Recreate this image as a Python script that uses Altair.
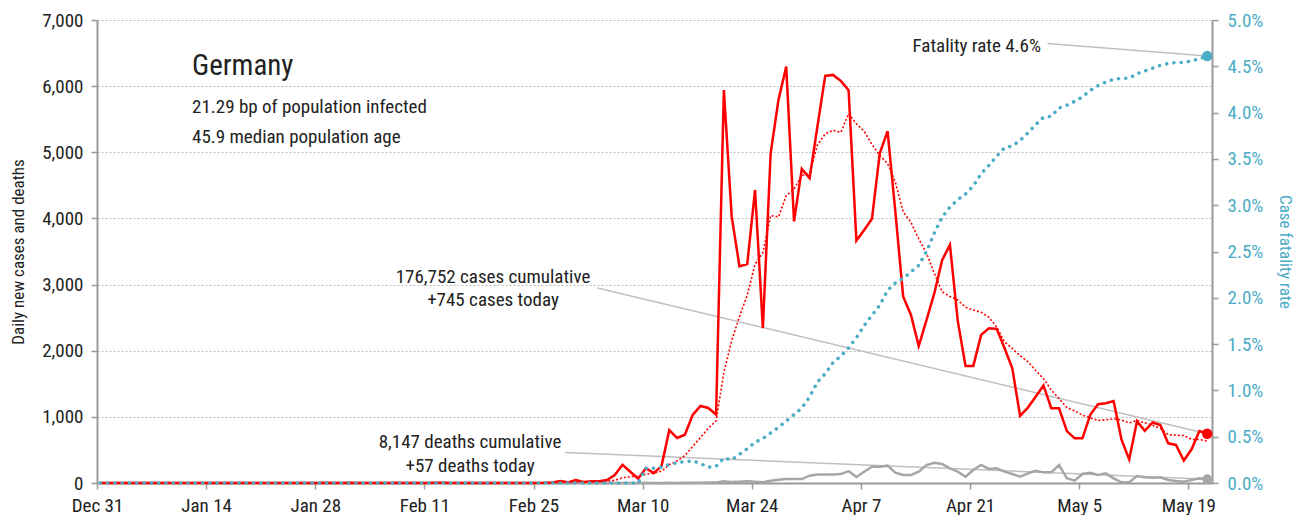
import altair as alt
import pandas as pd

# ---------------- data ----------------
days = list(range(0, 143))  # 0 = Dec 31 ... 142 = May 21

cases_sparse = {
    28: 1, 29: 3, 31: 1, 32: 3, 35: 1, 38: 2, 40: 1, 43: 2, 44: 2,
    57: 2, 58: 8, 59: 30, 60: 10, 61: 45, 62: 15, 63: 25, 64: 25, 65: 45,
    66: 120, 67: 275, 68: 170, 69: 65, 70: 225, 71: 150, 72: 255, 73: 800,
    74: 680, 75: 730, 76: 1030, 77: 1165, 78: 1135, 79: 1035, 80: 5940,
    81: 4030, 82: 3275, 83: 3310, 84: 4430, 85: 2340, 86: 4985, 87: 5790,
    88: 6295, 89: 3955, 90: 4750, 91: 4610, 92: 5390, 93: 6155, 94: 6170,
    95: 6080, 96: 5940, 97: 3665, 98: 3825, 99: 3995, 100: 4985, 101: 5320,
    102: 4100, 103: 2820, 104: 2540, 105: 2070, 106: 2465, 107: 2870,
    108: 3370, 109: 3600, 110: 2455, 111: 1770, 112: 1770, 113: 2240,
    114: 2340, 115: 2330, 116: 2040, 117: 1735, 118: 1015, 119: 1140,
    120: 1305, 121: 1475, 122: 1130, 123: 1130, 124: 785, 125: 675,
    126: 675, 127: 1030, 128: 1190, 129: 1205, 130: 1240, 131: 660,
    132: 357, 133: 935, 134: 790, 135: 915, 136: 875, 137: 600, 138: 575,
    139: 340, 140: 510, 141: 785, 142: 745,
}
deaths_sparse = {
    70: 2, 72: 1, 73: 2, 74: 1, 75: 2, 76: 5, 77: 4, 78: 8, 79: 8, 80: 25,
    81: 15, 82: 20, 83: 25, 84: 20, 85: 12, 86: 35, 87: 50, 88: 60, 89: 60,
    90: 60, 91: 110, 92: 130, 93: 130, 94: 130, 95: 135, 96: 180, 97: 90,
    98: 170, 99: 245, 100: 245, 101: 262, 102: 156, 103: 121, 104: 121,
    105: 171, 106: 272, 107: 307, 108: 287, 109: 222, 110: 171, 111: 95,
    112: 197, 113: 272, 114: 212, 115: 222, 116: 171, 117: 136, 118: 95,
    119: 146, 120: 186, 121: 161, 122: 161, 123: 272, 124: 71, 125: 35,
    126: 136, 127: 156, 128: 121, 129: 146, 130: 71, 131: 10, 132: 10,
    133: 106, 134: 86, 135: 80, 136: 86, 137: 45, 138: 30, 139: 20,
    140: 45, 141: 71, 142: 57,
}
cfr_sparse = {  # percent
    70: 0.16, 71: 0.16, 72: 0.17, 73: 0.20, 74: 0.22, 75: 0.23, 76: 0.24,
    77: 0.21, 78: 0.17, 79: 0.18, 80: 0.27, 81: 0.25, 82: 0.31, 83: 0.37,
    84: 0.44, 85: 0.48, 86: 0.54, 87: 0.60, 88: 0.67, 89: 0.74, 90: 0.81,
    91: 0.93, 92: 1.09, 93: 1.18, 94: 1.30, 95: 1.37, 96: 1.46, 97: 1.57,
    98: 1.70, 99: 1.81, 100: 1.92, 101: 2.08, 102: 2.16, 103: 2.21,
    104: 2.28, 105: 2.35, 106: 2.50, 107: 2.70, 108: 2.87, 109: 2.98,
    110: 3.06, 111: 3.12, 112: 3.21, 113: 3.34, 114: 3.43, 115: 3.53,
    116: 3.62, 117: 3.64, 118: 3.70, 119: 3.78, 120: 3.87, 121: 3.95,
    122: 3.96, 123: 4.05, 124: 4.08, 125: 4.12, 126: 4.17, 127: 4.24,
    128: 4.29, 129: 4.33, 130: 4.36, 131: 4.37, 132: 4.37, 133: 4.42,
    134: 4.45, 135: 4.48, 136: 4.51, 137: 4.53, 138: 4.54, 139: 4.54,
    140: 4.56, 141: 4.58, 142: 4.61,
}
cases = [cases_sparse.get(d, 0) for d in days]
deaths = [deaths_sparse.get(d, 0) for d in days]
cfr = [cfr_sparse.get(d, 0.0) for d in days]

tick_days = [0, 14, 28, 42, 56, 70, 84, 98, 112, 126, 140]
tick_labels = ["Dec 31", "Jan 14", "Jan 28", "Feb 11", "Feb 25", "Mar 10",
               "Mar 24", "Apr 7", "Apr 21", "May 5", "May 19"]
left_ticks = [0, 1000, 2000, 3000, 4000, 5000, 6000, 7000]
right_ticks = [0, 0.5, 1, 1.5, 2, 2.5, 3, 3.5, 4, 4.5, 5]

title_lines = ["Germany", "21.29 bp of population infected", "45.9 median population age"]
cases_note = ["176,752 cases cumulative", "+745 cases today"]
deaths_note = ["8,147 deaths cumulative", "+57 deaths today"]
cfr_note = "Fatality rate 4.6%"

df = pd.DataFrame({"day": days, "cases": cases, "deaths": deaths, "cfr": cfr})

# ---------------- styling ----------------
FONT = "'Roboto Condensed', 'DejaVu Sans Condensed', 'Liberation Sans Narrow', Roboto, sans-serif"
RED = "#ff0000"
BLUE = "#4bacc6"
GREY = "#a6a6a6"
LEAD = "#bfbfbf"
TXT = "#222222"
W, H = 1115, 463
LAST = 142

label_js = "[" + ",".join("'%s'" % s for s in tick_labels) + "]"

xscale = alt.Scale(domain=[0, 143.04], nice=False, zero=False)
yscale = alt.Scale(domain=[0, 7000], nice=False)
rscale = alt.Scale(domain=[0, 5], nice=False)

xaxis = alt.Axis(values=tick_days, labelExpr=label_js + "[round(datum.value/14)]",
                 title=None, grid=False, labelFontSize=19, labelPadding=7,
                 tickSize=6, labelColor=TXT, labelFlush=False, labelOverlap=False)
yaxis = alt.Axis(values=left_ticks, labelExpr="format(datum.value, ',')",
                 title="Daily new cases and deaths",
                 grid=True, gridDash=[2, 2], gridColor="#bbbbbb", gridWidth=1,
                 labelFontSize=19, labelPadding=8, tickSize=6, labelColor=TXT,
                 labelFlush=False,
                 titleFontSize=17, titleFontWeight="normal", titleColor=TXT,
                 titleX=-79, titleY=H / 2, titleBaseline="middle")
raxis = alt.Axis(orient="right", values=right_ticks,
                 labelExpr="format(datum.value, '.1f') + '%'",
                 title="Case fatality rate", grid=False, labelFontSize=19,
                 labelPadding=9, tickSize=6, labelColor=BLUE, titleColor=BLUE,
                 labelFlush=False,
                 titleFontSize=17, titleFontWeight="normal",
                 titleX=72, titleY=H / 2, titleBaseline="middle")

base = alt.Chart(df).transform_calculate(xpos="datum.day + 0.42")
X = alt.X("xpos:Q", scale=xscale, axis=xaxis)
YL = lambda f: alt.Y(f, scale=yscale, axis=yaxis)
YR = lambda f: alt.Y(f, scale=rscale, axis=raxis)

last = base.transform_filter(f"datum.day == {LAST}")

cases_line = base.mark_line(color=RED, strokeWidth=2.5).encode(
    x=X, y=YL("cases:Q"))
lead_cases = last.transform_calculate(sx="64.2", sy="2948").mark_rule(
    color=LEAD, strokeWidth=1.5).encode(
    x=alt.X("sx:Q", scale=xscale, axis=xaxis), x2="xpos:Q",
    y=YL("sy:Q"), y2="cases:Q")
lead_deaths = last.transform_calculate(sx="60.1", sy="461").mark_rule(
    color=LEAD, strokeWidth=1.5).encode(
    x=alt.X("sx:Q", scale=xscale, axis=xaxis), x2="xpos:Q",
    y=YL("sy:Q"), y2="deaths:Q")
deaths_line = base.mark_line(color=GREY, strokeWidth=2.5).encode(
    x=X, y=YL("deaths:Q"))
avg_line = base.transform_window(
    avg="mean(cases)", frame=[-6, 0], sort=[alt.SortField("day")]
).mark_line(color=RED, strokeWidth=1.6, strokeDash=[2, 2]).encode(
    x=X, y=YL("avg:Q"))
cases_dot = last.mark_circle(color=RED, size=110, opacity=1).encode(
    x=X, y=YL("cases:Q"))
deaths_dot = last.mark_circle(color=GREY, size=95, opacity=1).encode(
    x=X, y=YL("deaths:Q"))

txt = pd.DataFrame({"t": [0]})


def label(text, x, y, size=19, align="left"):
    return alt.Chart(txt).mark_text(
        text=text, align=align, baseline="alphabetic", fontSize=size,
        color=TXT, font=FONT).encode(x=alt.value(x), y=alt.value(y))


texts = [
    label(title_lines[0], 95, 55, size=29),
    label(title_lines[1], 95, 93),
    label(title_lines[2], 95, 123),
    label(cases_note[0], 396, 263, align="center"),
    label(cases_note[1], 396, 286, align="center"),
    label(deaths_note[0], 373, 428, align="center"),
    label(deaths_note[1], 373, 452, align="center"),
    label(cfr_note, 944, 32, align="right"),
]

left = alt.layer(lead_cases, lead_deaths, deaths_line, avg_line, cases_line,
                 cases_dot, deaths_dot, *texts)

lead_cfr = last.transform_calculate(sx="121.94", sy="4.746").mark_rule(
    color=LEAD, strokeWidth=1.5).encode(
    x=alt.X("sx:Q", scale=xscale, axis=xaxis), x2="xpos:Q",
    y=YR("sy:Q"), y2="cfr:Q")
cfr_line = base.mark_line(color=BLUE, strokeWidth=3.5, strokeDash=[0.1, 7.2],
                          strokeCap="round").encode(
    x=X, y=YR("cfr:Q"))
cfr_dot = last.mark_circle(color=BLUE, size=110, opacity=1).encode(
    x=X, y=YR("cfr:Q"))

right = alt.layer(lead_cfr, cfr_line, cfr_dot)

chart = alt.layer(left, right).resolve_scale(y="independent").properties(
    width=W, height=H,
    autosize=alt.AutoSizeParams(type="none"),
    padding={"left": 89, "top": 12, "right": 82, "bottom": 32},
).configure(font=FONT).configure_view(stroke=None).configure_axis(
    domainColor="#999999", domainWidth=2, tickColor="#999999", tickWidth=1.5,
    labelFont=FONT, titleFont=FONT,
)

chart.save("out.html", embed_options={"renderer": "svg", "actions": False})
